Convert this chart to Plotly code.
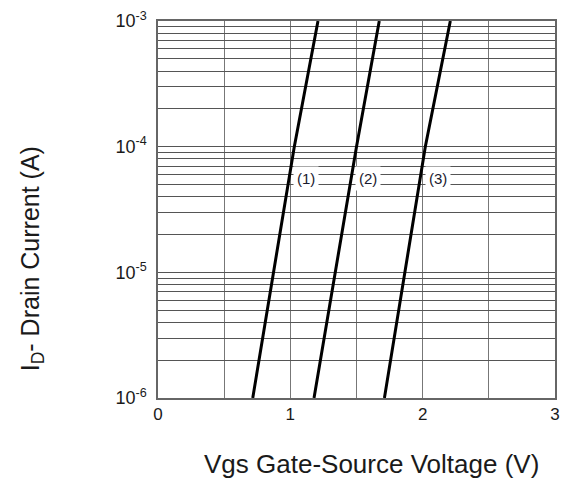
import math
import plotly.graph_objects as go

curve_labels = ["(1)", "(2)", "(3)"]
vgs_1 = [0.716, 1.03, 1.209]
vgs_2 = [1.179, 1.50, 1.672]
vgs_3 = [1.711, 2.02, 2.209]
id_vals = [1e-6, 1e-4, 1e-3]
label_vgs = [1.12, 1.585, 2.115]
label_id = 5.6e-5

x_ticks = [0, 0.5, 1, 1.5, 2, 2.5, 3]
x_ticktext = ["0", "", "1", "", "2", "", "3"]
y_ticks = []
y_ticktext = []
for e in (-6, -5, -4):
    for m in range(1, 10):
        y_ticks.append(m * 10.0 ** e)
        y_ticktext.append(f"10<sup>{e}</sup>" if m == 1 else "")
y_ticks.append(1e-3)
y_ticktext.append("10<sup>-3</sup>")

font = "Liberation Sans, Arial, sans-serif"
fig = go.Figure()
for v in (vgs_1, vgs_2, vgs_3):
    fig.add_trace(go.Scatter(x=v, y=id_vals, mode="lines",
                             line=dict(color="black", width=3), showlegend=False,
                             hoverinfo="skip"))

for lbl, xv in zip(curve_labels, label_vgs):
    fig.add_annotation(x=xv, y=math.log10(label_id), yref="y", xref="x", text=lbl,
                       showarrow=False, bgcolor="white",
                       font=dict(family=font, size=15, color="#1a1a2e"),
                       borderpad=3)

fig.add_annotation(xref="paper", yref="paper", x=0.537, y=-0.175, yanchor="middle",
                   text="Vgs Gate-Source Voltage (V)", showarrow=False,
                   font=dict(family=font, size=26, color="#1a1a1a"))
fig.add_annotation(xref="paper", yref="paper", x=-0.318, y=0.37, xanchor="center",
                   text="I<sub>D</sub>- Drain Current (A)", showarrow=False, textangle=-90,
                   font=dict(family=font, size=25, color="#1a1a1a"))

fig.update_layout(
    width=569, height=482,
    margin=dict(l=158, r=9, t=15, b=84),
    paper_bgcolor="white", plot_bgcolor="white",
    xaxis=dict(range=[0, 3], tickvals=x_ticks, ticktext=x_ticktext,
               showgrid=True, gridcolor="#777", gridwidth=1.2,
               showline=True, linecolor="#666", linewidth=1.5, mirror=True,
               zeroline=False, ticks="", tickfont=dict(family=font, size=17, color="#1a1a1a")),
    yaxis=dict(type="log", range=[-6, -3], tickvals=y_ticks, ticktext=y_ticktext,
               showgrid=True, gridcolor="#555", gridwidth=1.2,
               showline=True, linecolor="#666", linewidth=1.5, mirror=True,
               zeroline=False, ticks="", ticklabelstandoff=6,
               tickfont=dict(family=font, size=18, color="#1a1a1a")),
)
fig.write_html("out.html")
